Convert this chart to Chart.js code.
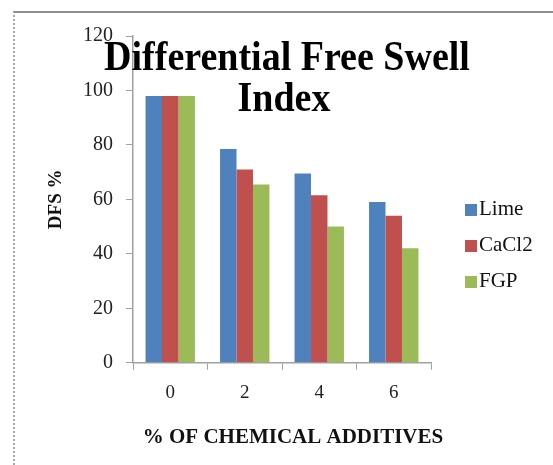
<!DOCTYPE html>
<html>
<head>
<meta charset="utf-8">
<script src="https://cdn.jsdelivr.net/npm/chart.js@4/dist/chart.umd.min.js"></script>
<style>
  html, body { margin: 0; padding: 0; background: #fff; }
  #wrap { position: relative; width: 553px; height: 465px; overflow: hidden; }
  #frame { position: absolute; left: 13px; top: 11px; right: -4px; bottom: -4px;
           border-top: 2px solid #8e8e8e; border-left: 2px dotted #a8a8a8; pointer-events: none; }
  #legend { position: absolute; left: 465px; top: 0; font-family: "Liberation Serif", serif; font-size: 21px; color: #111; }
  .item { position: absolute; left: 0; white-space: nowrap; height: 24px; line-height: 24px; }
  .swatch { display: inline-block; width: 12px; height: 12px; margin-right: 2px; vertical-align: -1px; }
</style>
</head>
<body>
<div id="wrap">
  <canvas id="chart" width="553" height="465"></canvas>
  <div id="frame"></div>
  <div id="legend"></div>
</div>
<script>
// Differential free swell (%) for each additive dosage
const additivePercent = ['0', '2', '4', '6'];
const limeDFS  = [98, 78.5, 69.5, 59];
const cacl2DFS = [98, 71, 61.5, 54];
const fgpDFS   = [98, 65.5, 50, 42];
const seriesNames = ['Lime', 'CaCl2', 'FGP'];
const seriesColors = ['#4F81BD', '#C0504D', '#9BBB59'];
const titleLines = ['Differential Free Swell', 'Index'];
const xAxisTitle = '% OF CHEMICAL ADDITIVES';
const yTicks = [0, 20, 40, 60, 80, 100, 120];

const serif = '"Liberation Serif", "Times New Roman", serif';

// Two-line heading drawn over the top of the plot, plus the category axis caption
const headingPlugin = {
  id: 'heading',
  afterDraw(chart) {
    const ctx = chart.ctx;
    const drawLine = (text, x, baseline) => {
      ctx.save();
      ctx.translate(x, baseline);
      ctx.scale(1, 1.12);
      ctx.fillText(text, 0, 0);
      ctx.restore();
    };
    ctx.save();
    ctx.font = 'bold 38px ' + serif;
    ctx.fillStyle = '#000';
    ctx.textAlign = 'center';
    ctx.textBaseline = 'alphabetic';
    drawLine(titleLines[0], 287, 70);
    drawLine(titleLines[1], 284, 111);

    ctx.font = 'bold 21px ' + serif;
    ctx.fillStyle = '#111';
    ctx.textBaseline = 'middle';
    ctx.fillText(xAxisTitle, 293, 438);
    ctx.restore();
  }
};

const seriesValues = [limeDFS, cacl2DFS, fgpDFS];

new Chart(document.getElementById('chart'), {
  type: 'bar',
  data: {
    labels: additivePercent,
    datasets: seriesNames.map((name, i) => ({
      label: name,
      data: seriesValues[i],
      backgroundColor: seriesColors[i],
      borderWidth: 0,
      categoryPercentage: 0.663,
      barPercentage: 1
    }))
  },
  options: {
    responsive: false,
    animation: false,
    layout: { padding: { top: 36, right: 122, bottom: 0, left: 0 } },
    plugins: {
      legend: { display: false },
      title: { display: false },
      tooltip: { enabled: false }
    },
    scales: {
      x: {
        grid: { display: true, drawOnChartArea: false, offset: true, tickLength: 7, color: '#a0a0a0', lineWidth: 1 },
        border: { color: '#a0a0a0', width: 1.5 },
        ticks: { font: { family: serif, size: 19 }, color: '#222', padding: 12 },
        title: { display: false },
        afterFit(scale) { scale.height = 102.3; }
      },
      y: {
        min: 0,
        max: 120,
        afterBuildTicks(scale) { scale.ticks = yTicks.map(v => ({ value: v })); },
        grid: { display: true, drawOnChartArea: false, tickLength: 7, color: '#a0a0a0', lineWidth: 1 },
        border: { color: '#a0a0a0', width: 1.5 },
        ticks: { font: { family: serif, size: 20 }, color: '#222', padding: 13 },
        title: {
          display: true,
          text: 'DFS %',
          font: { family: serif, size: 19, weight: 'bold' },
          color: '#111',
          padding: { top: 45, bottom: 0 }
        },
        afterFit(scale) { scale.width = 133; }
      }
    }
  },
  plugins: [headingPlugin]
});

// Series key on the right
const legendEl = document.getElementById('legend');
const legendCenters = [208, 244, 280];
seriesNames.forEach((name, i) => {
  const item = document.createElement('div');
  item.className = 'item';
  item.style.top = (legendCenters[i] - 12) + 'px';
  const sw = document.createElement('span');
  sw.className = 'swatch';
  sw.style.background = seriesColors[i];
  item.appendChild(sw);
  item.appendChild(document.createTextNode(name));
  legendEl.appendChild(item);
});
</script>
</body>
</html>
